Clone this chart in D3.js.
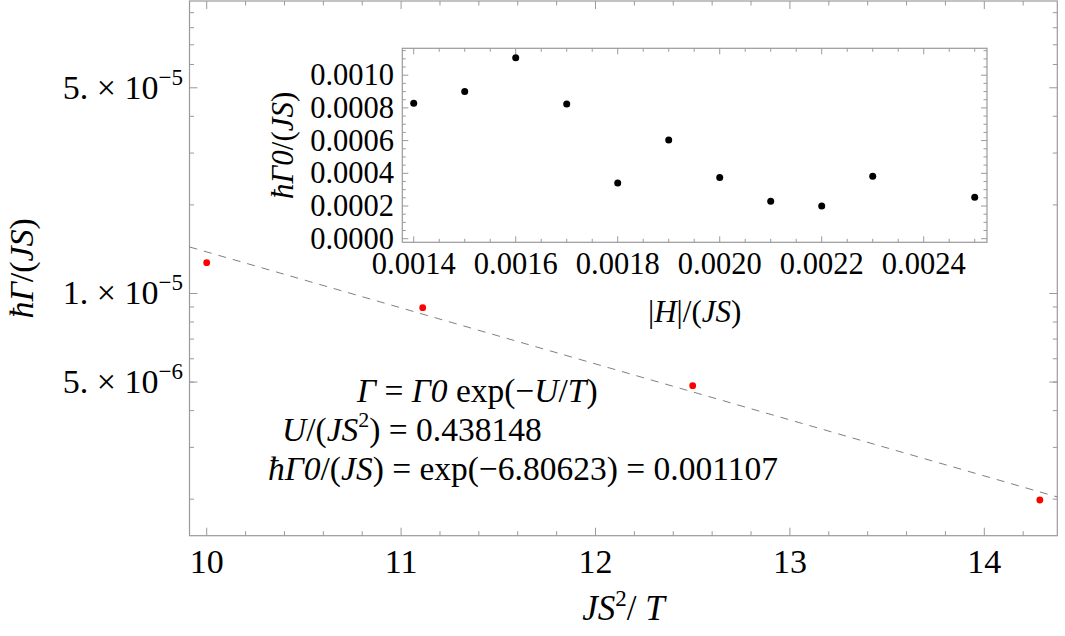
<!DOCTYPE html>
<html>
<head>
<meta charset="utf-8">
<script src="https://cdn.jsdelivr.net/npm/d3@7"></script>
<style>
body { margin: 0; background: white; }
text { font-family: "Liberation Serif", "Times New Roman", serif; fill: black; }
</style>
</head>
<body>
<svg id="chart" width="1065" height="636"></svg>
<script>
// main plot data: JS^2/T vs hbar*Gamma/(JS)
var invT = [10, 11.1111, 12.5, 14.2857]
var gammaVals = [1.273e-5, 8.95e-6, 4.86e-6, 1.987e-6]
var xTicks = [10, 11, 12, 13, 14]
var yLabelTicks = [5e-5, 1e-5, 5e-6]
var yLabelMant = ["5", "1", "5"]
var yLabelExp = ["\u22125", "\u22125", "\u22126"]

// fit parameters
var fitU = 0.438148
var fitLnG0 = -6.80623

// inset data: |H|/(JS) vs hbar*Gamma0/(JS)
var fieldH = [0.0014, 0.0015, 0.0016, 0.0017, 0.0018, 0.0019, 0.0020, 0.0021, 0.0022, 0.0023, 0.0025]
var gamma0Vals = [0.000828, 0.000901, 0.001107, 0.000824, 0.000341, 0.000604, 0.000375, 0.000229, 0.000200, 0.000382, 0.000253]
var insetXTicks = [0.0014, 0.0016, 0.0018, 0.0020, 0.0022, 0.0024]
var insetYTicks = [0.0000, 0.0002, 0.0004, 0.0006, 0.0008, 0.0010]

var svg = d3.select("#chart")
var frameColor = "#9a9a9a"

var mLeft = 189.5, mRight = 1057.3, mTop = 1, mBottom = 535.7

var xScale = d3.scaleLinear()
    .domain([9.9115, 14.3755])
    .range([mLeft, mRight])

var yScale = d3.scaleLog()
    .domain([1.503e-6, 9.86e-5])
    .range([mBottom, mTop])

var main = svg.append("g").attr("id", "main")

// minor ticks
var xMinor = d3.range(9.8, 14.5, 0.2).filter(function(d){
    return d >= 9.9115 && d <= 14.3755 && Math.abs(d - Math.round(d)) > 0.01 })
var yMinor = []
;[1e-6, 1e-5].forEach(function(p){
    d3.range(1, 10).forEach(function(m){
	var v = m * p
	if (v >= 1.503e-6 && v <= 9.86e-5 && yLabelTicks.indexOf(v) < 0) yMinor.push(v)
    })
})

function drawTicks(g, xs, ys, majX, majY, sx, sy, box, lenMaj, lenMin){
    var all = []
    xs.forEach(function(d){ all.push({x: sx(d), y1: box[3], y2: box[3] - lenMin}); all.push({x: sx(d), y1: box[2], y2: box[2] + lenMin}) })
    majX.forEach(function(d){ all.push({x: sx(d), y1: box[3], y2: box[3] - lenMaj}); all.push({x: sx(d), y1: box[2], y2: box[2] + lenMaj}) })
    g.selectAll("line.xt").data(all).enter().append("line")
	.attr("class", "xt")
	.attr("x1", function(d){ return d.x }).attr("x2", function(d){ return d.x })
	.attr("y1", function(d){ return d.y1 }).attr("y2", function(d){ return d.y2 })
	.attr("stroke", frameColor).attr("stroke-width", 1)
    var allY = []
    ys.forEach(function(d){ allY.push({y: sy(d), x1: box[0], x2: box[0] + lenMin}); allY.push({y: sy(d), x1: box[1], x2: box[1] - lenMin}) })
    majY.forEach(function(d){ allY.push({y: sy(d), x1: box[0], x2: box[0] + lenMaj}); allY.push({y: sy(d), x1: box[1], x2: box[1] - lenMaj}) })
    g.selectAll("line.yt").data(allY).enter().append("line")
	.attr("class", "yt")
	.attr("y1", function(d){ return d.y }).attr("y2", function(d){ return d.y })
	.attr("x1", function(d){ return d.x1 }).attr("x2", function(d){ return d.x2 })
	.attr("stroke", frameColor).attr("stroke-width", 1)
}

drawTicks(main, xMinor, yMinor, xTicks, yLabelTicks, xScale, yScale, [mLeft, mRight, mTop, mBottom], 8, 4.5)

main.append("rect")
    .attr("x", mLeft).attr("y", mTop)
    .attr("width", mRight - mLeft).attr("height", mBottom - mTop)
    .attr("fill", "none").attr("stroke", frameColor).attr("stroke-width", 1.2)

// x tick labels
main.selectAll("text.xl").data(xTicks).enter().append("text")
    .attr("class", "xl")
    .attr("x", function(d){ return xScale(d) })
    .attr("y", 573)
    .attr("text-anchor", "middle")
    .attr("font-size", 34)
    .text(function(d){ return d })

// y tick labels
var yl = main.selectAll("text.yl").data(yLabelTicks).enter().append("text")
    .attr("class", "yl")
    .attr("x", 183)
    .attr("y", function(d){ return yScale(d) + 11 })
    .attr("text-anchor", "end")
    .attr("font-size", 34)
yl.append("tspan").text(function(d, i){ return yLabelMant[i] + ". \u00d7 10" })
yl.append("tspan").attr("font-size", 23).attr("dy", -14).text(function(d, i){ return yLabelExp[i] })

// fit line
var fitLine = d3.line()
    .x(function(d){ return xScale(d) })
    .y(function(d){ return yScale(Math.exp(fitLnG0 - fitU * d)) })
main.append("path")
    .datum(xScale.domain())
    .attr("d", fitLine)
    .attr("fill", "none")
    .attr("stroke", "#808080")
    .attr("stroke-width", 1)
    .attr("stroke-dasharray", "8,7")

main.selectAll("circle.pt").data(invT).enter().append("circle")
    .attr("class", "pt")
    .attr("cx", function(d){ return xScale(d) })
    .attr("cy", function(d, i){ return yScale(gammaVals[i]) })
    .attr("r", 3.4)
    .attr("fill", "#ff0000")

// axis titles
var xt = svg.append("text")
    .attr("x", (mLeft + mRight) / 2).attr("y", 620)
    .attr("text-anchor", "middle")
    .attr("font-size", 35)
    .attr("font-style", "italic")
xt.append("tspan").text("JS")
xt.append("tspan").attr("font-size", 23).attr("dy", -14).attr("font-style", "normal").text("2")
xt.append("tspan").attr("dy", 14).attr("font-style", "normal").text("/ ")
xt.append("tspan").text("T")

var ytitle = svg.append("text")
    .attr("transform", "translate(33," + (mTop + mBottom) / 2 + ") rotate(-90)")
    .attr("text-anchor", "middle")
    .attr("font-size", 34)
ytitle.append("tspan").attr("font-style", "italic").text("\u0127\u0393")
ytitle.append("tspan").text("/(")
ytitle.append("tspan").attr("font-style", "italic").text("JS")
ytitle.append("tspan").text(")")

// annotation
var ann = svg.append("g").attr("font-size", 33.5)
var a1 = ann.append("text").attr("x", 357).attr("y", 402)
a1.append("tspan").attr("font-style", "italic").text("\u0393")
a1.append("tspan").text(" = ")
a1.append("tspan").attr("font-style", "italic").text("\u03930")
a1.append("tspan").text(" exp(\u2212")
a1.append("tspan").attr("font-style", "italic").text("U")
a1.append("tspan").text("/")
a1.append("tspan").attr("font-style", "italic").text("T")
a1.append("tspan").text(")")

var a2 = ann.append("text").attr("x", 282).attr("y", 441)
a2.append("tspan").attr("font-style", "italic").text("U")
a2.append("tspan").text("/(")
a2.append("tspan").attr("font-style", "italic").text("JS")
a2.append("tspan").attr("font-size", 22).attr("dy", -14).text("2")
a2.append("tspan").attr("dy", 14).text(") = " + fitU)

var a3 = ann.append("text").attr("x", 268).attr("y", 480)
a3.append("tspan").attr("font-style", "italic").text("\u0127\u03930")
a3.append("tspan").text("/(")
a3.append("tspan").attr("font-style", "italic").text("JS")
a3.append("tspan").text(") = exp(\u2212" + Math.abs(fitLnG0) + ") = " + d3.format(".6f")(Math.exp(fitLnG0)))

// inset
var iLeft = 402.3, iRight = 987, iTop = 48.3, iBottom = 242.3
var ixScale = d3.scaleLinear()
    .domain([0.0013776, 0.0025241])
    .range([iLeft, iRight])
var iyScale = d3.scaleLinear()
    .domain([-0.000022, 0.0011645])
    .range([iBottom, iTop])

var inset = svg.append("g").attr("id", "inset")
inset.append("rect")
    .attr("x", iLeft).attr("y", iTop)
    .attr("width", iRight - iLeft).attr("height", iBottom - iTop)
    .attr("fill", "white")

var ixMinor = d3.range(0.00135, 0.00255, 0.00005).filter(function(d){
    return d >= 0.0013776 && d <= 0.0025241 && Math.abs(d / 0.0002 - Math.round(d / 0.0002)) > 0.01 })
var iyMinor = d3.range(-0.00005, 0.0012, 0.00005).filter(function(d){
    return d >= -0.000022 && d <= 0.0011645 && Math.abs(d / 0.0002 - Math.round(d / 0.0002)) > 0.01 })

drawTicks(inset, ixMinor, iyMinor, insetXTicks, insetYTicks, ixScale, iyScale, [iLeft, iRight, iTop, iBottom], 6, 3.5)

inset.append("rect")
    .attr("x", iLeft).attr("y", iTop)
    .attr("width", iRight - iLeft).attr("height", iBottom - iTop)
    .attr("fill", "none").attr("stroke", frameColor).attr("stroke-width", 1.2)

inset.selectAll("text.ixl").data(insetXTicks).enter().append("text")
    .attr("class", "ixl")
    .attr("x", function(d){ return ixScale(d) })
    .attr("y", 274)
    .attr("text-anchor", "middle")
    .attr("font-size", 30.5)
    .text(function(d){ return d3.format(".4f")(d) })

inset.selectAll("text.iyl").data(insetYTicks).enter().append("text")
    .attr("class", "iyl")
    .attr("x", 394)
    .attr("y", function(d){ return iyScale(d) + 10 })
    .attr("text-anchor", "end")
    .attr("font-size", 30.5)
    .text(function(d){ return d3.format(".4f")(d) })

inset.selectAll("circle.ipt").data(fieldH).enter().append("circle")
    .attr("class", "ipt")
    .attr("cx", function(d){ return ixScale(d) })
    .attr("cy", function(d, i){ return iyScale(gamma0Vals[i]) })
    .attr("r", 3.5)
    .attr("fill", "black")

var ixt = inset.append("text")
    .attr("x", (iLeft + iRight) / 2).attr("y", 322)
    .attr("text-anchor", "middle")
    .attr("font-size", 31)
ixt.append("tspan").text("|")
ixt.append("tspan").attr("font-style", "italic").text("H")
ixt.append("tspan").text("|/(")
ixt.append("tspan").attr("font-style", "italic").text("JS")
ixt.append("tspan").text(")")

var iyt = inset.append("text")
    .attr("transform", "translate(293," + (iTop + iBottom) / 2 + ") rotate(-90)")
    .attr("text-anchor", "middle")
    .attr("font-size", 31)
iyt.append("tspan").attr("font-style", "italic").text("\u0127\u03930")
iyt.append("tspan").text("/(")
iyt.append("tspan").attr("font-style", "italic").text("JS")
iyt.append("tspan").text(")")
</script>
</body>
</html>
